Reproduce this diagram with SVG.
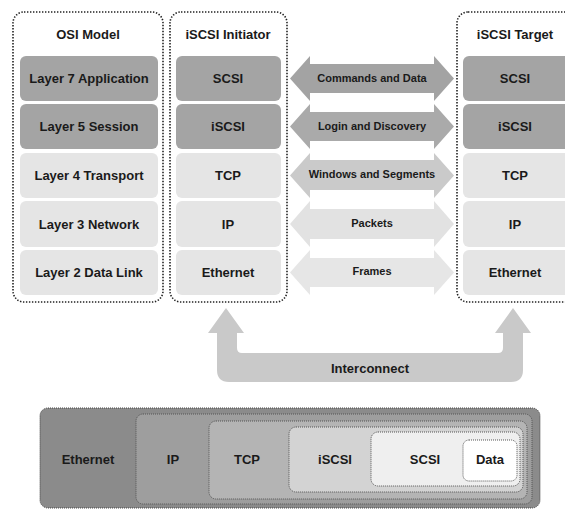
<svg xmlns="http://www.w3.org/2000/svg" width="565" height="509" viewBox="0 0 565 509">
<style>
.frame{fill:none;stroke:#222;stroke-width:1.6;stroke-dasharray:1.4 1.6}
.dk{fill:#a4a4a4}
.lt{fill:#e5e5e5}
.t{font-family:"Liberation Sans",Arial,sans-serif;font-weight:bold;font-size:13px;fill:#1a1a1a;text-anchor:middle}
.s{font-family:"Liberation Sans",Arial,sans-serif;font-weight:bold;font-size:11px;fill:#1a1a1a;text-anchor:middle}
.nest{stroke:#555;stroke-width:1;stroke-dasharray:1 1}
</style>
<rect width="565" height="509" fill="#fff"/>

<g id="osi">
<rect class="frame" x="13" y="12" width="150" height="290" rx="11"/>
<text class="t" x="88" y="39">OSI Model</text>
<rect class="dk" x="20" y="56" width="138" height="45" rx="6"/>
<text class="t" x="89" y="83">Layer 7 Application</text>
<rect class="dk" x="20" y="104" width="138" height="45" rx="6"/>
<text class="t" x="89" y="131">Layer 5 Session</text>
<rect class="lt" x="20" y="153" width="138" height="45" rx="6"/>
<text class="t" x="89" y="180">Layer 4 Transport</text>
<rect class="lt" x="20" y="201" width="138" height="46" rx="6"/>
<text class="t" x="89" y="228.5">Layer 3 Network</text>
<rect class="lt" x="20" y="250" width="138" height="45" rx="6"/>
<text class="t" x="89" y="277">Layer 2 Data Link</text>
</g>

<g id="initiator">
<rect class="frame" x="170" y="12" width="117" height="290" rx="11"/>
<text class="t" x="228" y="39">iSCSI Initiator</text>
<rect class="dk" x="176" y="56" width="105" height="45" rx="6"/>
<text class="t" x="228" y="83">SCSI</text>
<rect class="dk" x="176" y="104" width="105" height="45" rx="6"/>
<text class="t" x="228" y="131">iSCSI</text>
<rect class="lt" x="176" y="153" width="105" height="45" rx="6"/>
<text class="t" x="228" y="180">TCP</text>
<rect class="lt" x="176" y="201" width="105" height="46" rx="6"/>
<text class="t" x="228" y="228.5">IP</text>
<rect class="lt" x="176" y="250" width="105" height="45" rx="6"/>
<text class="t" x="228" y="277">Ethernet</text>
</g>

<g id="target">
<rect class="frame" x="457" y="12" width="130" height="290" rx="11"/>
<text class="t" x="515" y="39">iSCSI Target</text>
<rect class="dk" x="463" y="56" width="110" height="45" rx="6"/>
<text class="t" x="515" y="83">SCSI</text>
<rect class="dk" x="463" y="104" width="110" height="45" rx="6"/>
<text class="t" x="515" y="131">iSCSI</text>
<rect class="lt" x="463" y="153" width="110" height="45" rx="6"/>
<text class="t" x="515" y="180">TCP</text>
<rect class="lt" x="463" y="201" width="110" height="46" rx="6"/>
<text class="t" x="515" y="228.5">IP</text>
<rect class="lt" x="463" y="250" width="110" height="45" rx="6"/>
<text class="t" x="515" y="277">Ethernet</text>
</g>

<g id="connectors">
<path fill="#a3a3a3" d="M290,78.5 L310,56 L310,64 L434,64 L434,56 L454,78.5 L434,101 L434,93 L310,93 L310,101 Z"/>
<text class="s" x="372" y="82">Commands and Data</text>
<path fill="#aaaaaa" d="M290,126.5 L310,104 L310,112 L434,112 L434,104 L454,126.5 L434,149 L434,141 L310,141 L310,149 Z"/>
<text class="s" x="372" y="130">Login and Discovery</text>
<path fill="#cacaca" d="M290,175.5 L310,153 L310,160 L434,160 L434,153 L454,175.5 L434,198 L434,190 L310,190 L310,198 Z"/>
<text class="s" x="372" y="178">Windows and Segments</text>
<path fill="#e2e2e2" d="M290,224 L310,201 L310,209 L434,209 L434,201 L454,224 L434,247 L434,239 L310,239 L310,247 Z"/>
<text class="s" x="372" y="227">Packets</text>
<path fill="#e6e6e6" d="M290,272.5 L310,250 L310,258 L434,258 L434,250 L454,272.5 L434,295 L434,287 L310,287 L310,295 Z"/>
<text class="s" x="372" y="275">Frames</text>
<path fill="#c9c9c9" d="M226,308 L244,333 L237,333 L237,348 Q237,353 242,353 L498,353 Q503,353 503,348 L503,333 L495,333 L513,308 L531,333 L523,333 L523,370 Q523,382 511,382 L229,382 Q217,382 217,370 L217,333 L208,333 Z"/>
<text class="t" x="370" y="373">Interconnect</text>
</g>

<g id="encapsulation">
<rect x="40" y="408" width="500" height="100" rx="8" fill="#8b8b8b" stroke="#444" stroke-width="1" stroke-dasharray="1 1"/>
<text class="t" x="88" y="464">Ethernet</text>
<rect class="nest" x="136" y="414" width="396" height="90" rx="7" fill="#9e9e9e"/>
<text class="t" x="173" y="464">IP</text>
<rect class="nest" x="209" y="421" width="318" height="78" rx="7" fill="#b4b4b4"/>
<text class="t" x="247" y="464">TCP</text>
<rect class="nest" x="289" y="427" width="234" height="65" rx="7" fill="#d3d3d3"/>
<text class="t" x="335" y="464">iSCSI</text>
<rect class="nest" x="371" y="432" width="149" height="54" rx="7" fill="#efefef"/>
<text class="t" x="425" y="464">SCSI</text>
<rect class="nest" x="463" y="440" width="54" height="41" rx="6" fill="#fff"/>
<text class="t" x="490" y="464">Data</text>
</g>
</svg>
